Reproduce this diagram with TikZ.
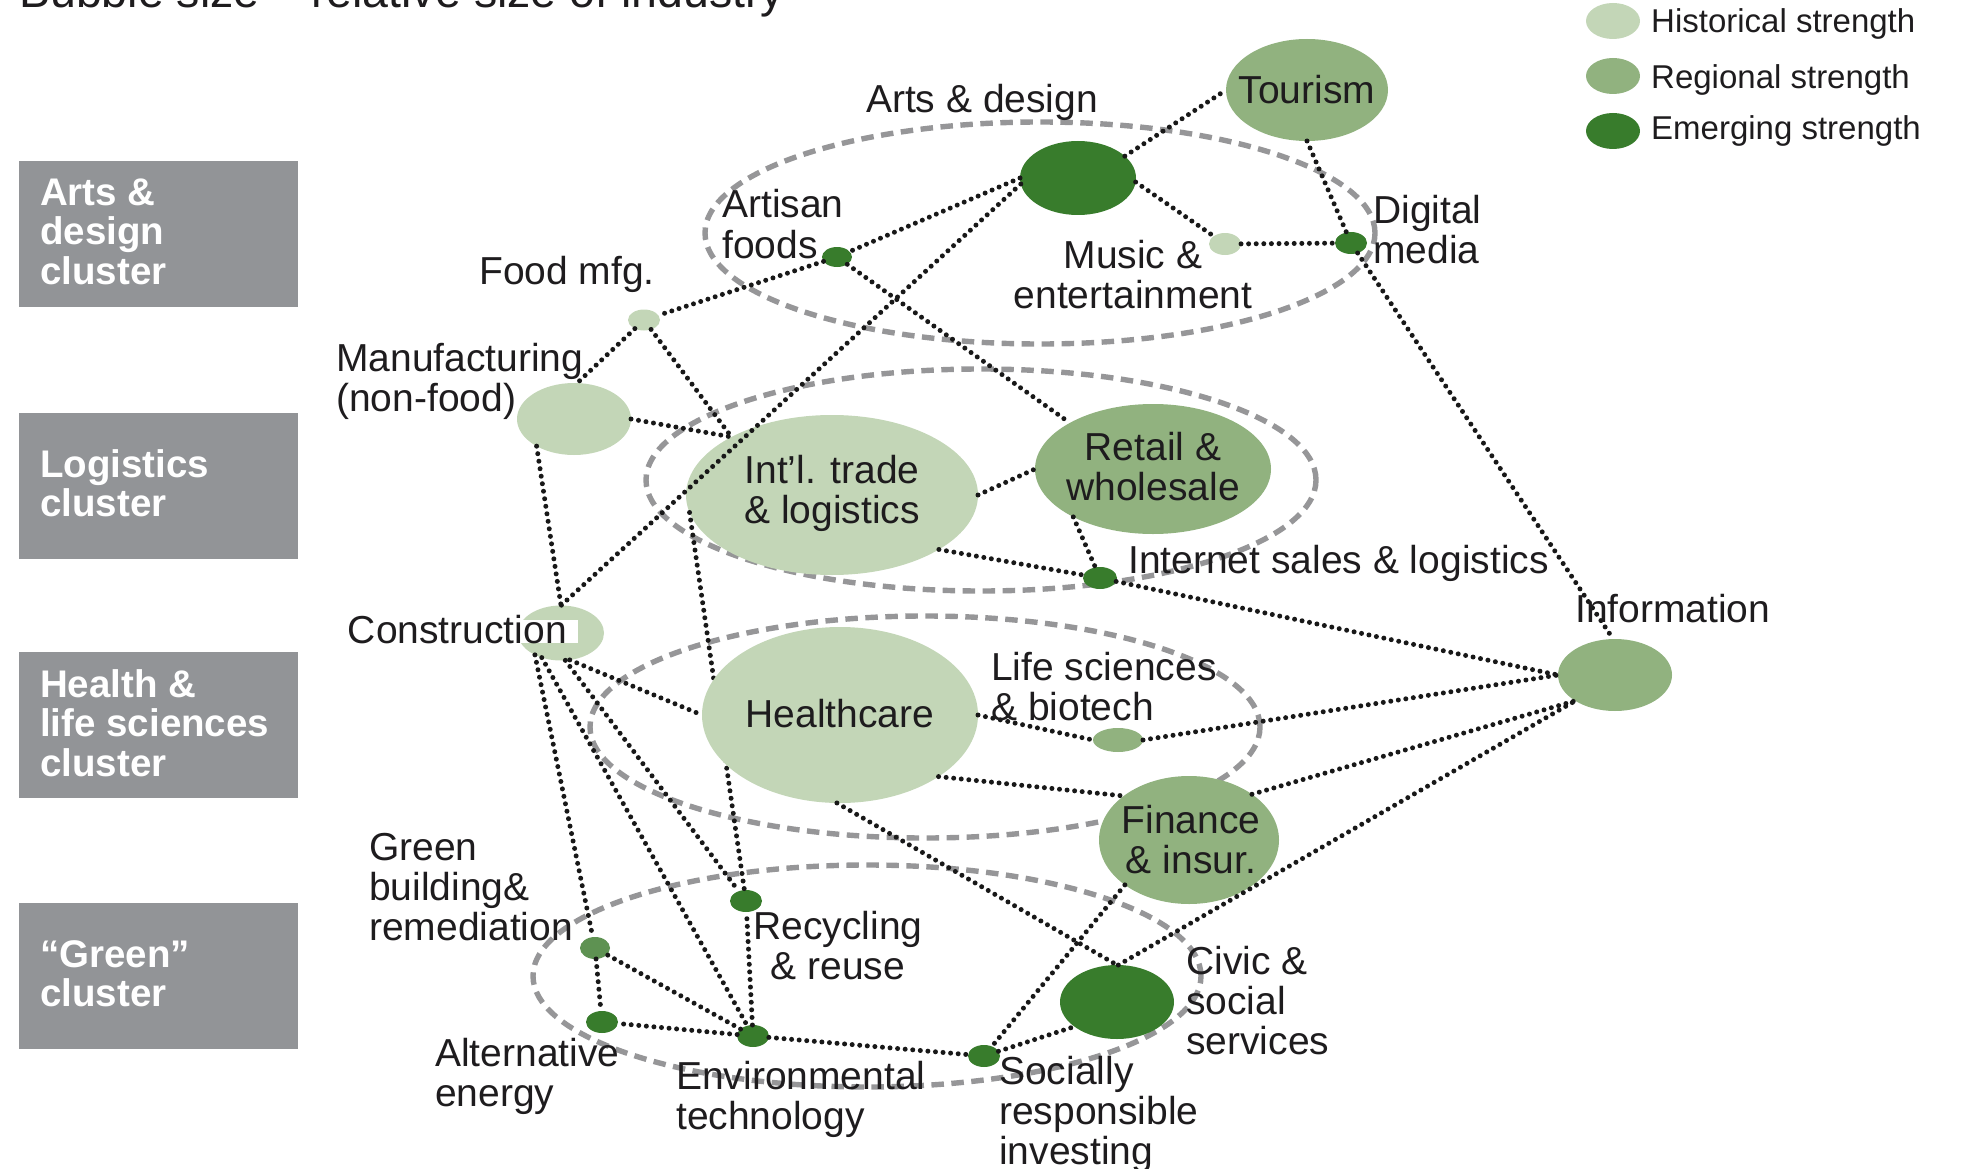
\documentclass[tikz,border=0pt]{standalone}
\usepackage{fontspec}
\setmainfont{Liberation Sans}
\usetikzlibrary{shapes.geometric}
\definecolor{histc}{RGB}{195,214,183}
\definecolor{regc}{RGB}{145,178,127}
\definecolor{emgc}{RGB}{56,124,44}
\definecolor{midc}{RGB}{94,146,82}
\definecolor{boxc}{RGB}{146,148,151}
\definecolor{dashc}{RGB}{150,150,152}
\definecolor{dotc}{RGB}{24,24,24}
\definecolor{txtc}{RGB}{30,28,30}
\begin{document}
\begin{tikzpicture}[x=1pt,y=-1pt,
  bub/.style n args={3}{ellipse, draw=none, fill=#1, inner sep=0pt, outer sep=0pt,
     minimum width=#2pt, minimum height=#3pt},
  clus/.style n args={2}{ellipse, draw=dashc, line width=5.4pt, dash pattern=on 12.5pt off 7.5pt,
     inner sep=0pt, outer sep=0pt, minimum width=#1pt, minimum height=#2pt},
  link/.style={draw=dotc, line width=5pt, line cap=round, dash pattern=on 0pt off 7.6pt},
  lbl/.style={font=\fontsize{39}{40}\selectfont, text=txtc, inner sep=0pt, align=left, anchor=base west},
  clbl/.style={font=\fontsize{39}{40}\selectfont, text=txtc, inner sep=0pt, align=center},
  catbox/.style={rectangle, fill=boxc, minimum width=279pt, minimum height=146pt, inner sep=0pt},
  cattxt/.style={font=\bfseries\fontsize{38.5}{39.7}\selectfont, text=white, inner sep=0pt, align=left, anchor=base west},
  legtxt/.style={font=\fontsize{33}{36}\selectfont, text=txtc, inner sep=0pt, anchor=base west}
]
\useasboundingbox (0,0) rectangle (1967,1169);
\clip (0,0) rectangle (1967,1169);

% title (cut off at the top edge)
\node[font=\fontsize{46.5}{50}\selectfont, text=txtc, inner sep=0pt, anchor=base west] (title) at (19,8) {Bubble size – relative size of industry};

% legend
\node[bub={histc}{54}{36}] (lh) at (1613,21) {};
\node[bub={regc}{54}{36}] (lr) at (1613,76) {};
\node[bub={emgc}{54}{36}] (le) at (1613,131) {};
\node[legtxt] (lht) at (1651,33) {Historical strength};
\node[legtxt] (lrt) at (1651,89) {Regional strength};
\node[legtxt] (let) at (1651,140) {Emerging strength};

% category boxes
\node[catbox] (b1) at (158.5,234) {};
\node[catbox] (b2) at (158.5,486) {};
\node[catbox] (b3) at (158.5,725) {};
\node[catbox] (b4) at (158.5,976) {};
\node[cattxt] (b1t) at (40,284.5) {Arts \&\\design\\cluster};
\node[cattxt] (b2t) at (40,516.7) {Logistics\\cluster};
\node[cattxt] (b3t) at (40,776.4) {Health \&\\life sciences\\cluster};
\node[cattxt] (b4t) at (40,1006.7) {“Green”\\cluster};

% cluster outlines
\node[clus={670}{222}] (cA) at (1040,233) {};
\node[clus={670}{222}] (cB) at (981,480) {};
\node[clus={670}{222}] (cC) at (925,727) {};
\node[clus={668}{222}] (cD) at (867,976) {};

% bubbles
\node[bub={regc}{162}{102}] (tour) at (1307,90) {};
\node[bub={emgc}{116}{74}] (arts) at (1078,178) {};
\node[bub={emgc}{30}{20}] (artf) at (837,257) {};
\node[bub={histc}{32}{22}] (music) at (1225,244) {};
\node[bub={emgc}{32}{22}] (digi) at (1351,243) {};
\node[bub={histc}{32}{21}] (food) at (644,320) {};
\node[bub={histc}{114}{72}] (manu) at (574,419) {};
\node[bub={histc}{292}{160}] (intl) at (832,495) {};
\node[bub={regc}{236}{130}] (retail) at (1153,469) {};
\node[bub={emgc}{34}{22}] (inet) at (1100,578) {};
\node[bub={regc}{114}{72}] (info) at (1615,675) {};
\node[bub={histc}{86}{55}] (cons) at (561,633) {};
\node[bub={regc}{50}{24}] (life) at (1118,740) {};
\node[bub={regc}{180}{128}] (fin) at (1189,840) {};
\node[bub={emgc}{114}{74}] (civic) at (1117,1002) {};
\node[bub={emgc}{32}{22}] (sri) at (984,1056) {};
\node[bub={emgc}{32}{22}] (recy) at (746,901) {};
\node[bub={midc}{30}{22}] (green) at (595,948) {};
\node[bub={emgc}{32}{22}] (alt) at (602,1022) {};
\node[bub={emgc}{32}{22}] (env) at (753,1036) {};

% this link runs behind Healthcare
\draw[link] (intl.187) -- (recy);
\node[bub={histc}{276}{176}] (health) at (840,715) {};

% connectors
\draw[link] (arts.25) -- (tour.180);
\draw[link] (arts.-4) -- (music);
\draw[link] (arts.180) -- (artf);
\draw[link] (arts.186) -- (cons.90);
\draw[link] (artf) -- (food);
\draw[link] (artf) -- (retail.151);
\draw[link] (tour.270) -- (digi);
\draw[link] (music) -- (digi);
\draw[link] (digi) -- (info.93);
\draw[link] (food) -- (manu.85);
\draw[link] (food) -- (intl.150);
\draw[link] (manu.0) -- (intl.150);
\draw[link] (manu.216) -- (cons.90);
\draw[link] (cons.288) -- (health.180);
\draw[link] (cons.220) -- (green);
\draw[link] (cons.232) -- (env);
\draw[link] (cons.279) -- (recy);
\draw[link] (intl.0) -- (retail.180);
\draw[link] (intl.333) -- (inet);
\draw[link] (retail.211) -- (inet);
\draw[link] (inet) -- (info.180);
\draw[link] (health.0) -- (life.180);
\draw[link] (life.0) -- (info.180);
\draw[link] (health.328) -- (fin.146);
\draw[link] (health.268) -- (civic.90);
\draw[link] (fin.36) -- (info.213);
\draw[link] (civic.88) -- (info.213);
\draw[link] (fin.215) -- (sri);
\draw[link] (sri) -- (civic.210);
\draw[link] (env) -- (sri);
\draw[link] (env) -- (recy);
\draw[link] (env) -- (green);
\draw[link] (env) -- (alt);
\draw[link] (green) -- (alt);

% texts inside bubbles
\node[clbl] (tourt) at (tour) {Tourism};
\node[clbl] (intlt) at (832,493) {Int’l. trade\\\& logistics};
\node[clbl] (retailt) at (1153,467) {Retail \&\\wholesale};
\node[clbl] (healtht) at (840,714) {Healthcare};
\node[clbl] (fint) at (1191,840) {Finance\\\& insur.};

% outside labels (anchor = baseline of the last line)
\node[clbl, anchor=base] (artst) at (982,113) {Arts \& design};
\node[lbl] (artft) at (722,258) {Artisan\\foods};
\node[clbl, anchor=base] (musict) at (1133,308) {Music \&\\entertainment};
\node[lbl] (digit) at (1373,263) {Digital\\media};
\node[lbl] (foodt) at (479,284) {Food mfg.};
\node[lbl] (manut) at (336,411) {Manufacturing\\(non-food)};
\node[font=\fontsize{39}{40}\selectfont, text=txtc, fill=white, inner xsep=11pt, inner ysep=0pt,
      text height=23.5pt, text depth=0pt, anchor=base east] (const) at (578,643) {Construction};
\node[lbl] (lifet) at (991,720) {Life sciences\\\& biotech};
\node[lbl] (inett) at (1128,573) {Internet sales \& logistics};
\node[lbl] (infot) at (1575,622) {Information};
\node[lbl] (greent) at (369,940) {Green\\building\&\\remediation};
\node[clbl, anchor=base] (recyt) at (838,979) {Recycling\\\& reuse};
\node[lbl] (altt) at (435,1106) {Alternative\\energy};
\node[lbl] (envt) at (676,1129) {Environmental\\technology};
\node[lbl] (srit) at (999,1164) {Socially\\responsible\\investing};
\node[lbl] (civict) at (1186,1054) {Civic \&\\social\\services};
\end{tikzpicture}
\end{document}
